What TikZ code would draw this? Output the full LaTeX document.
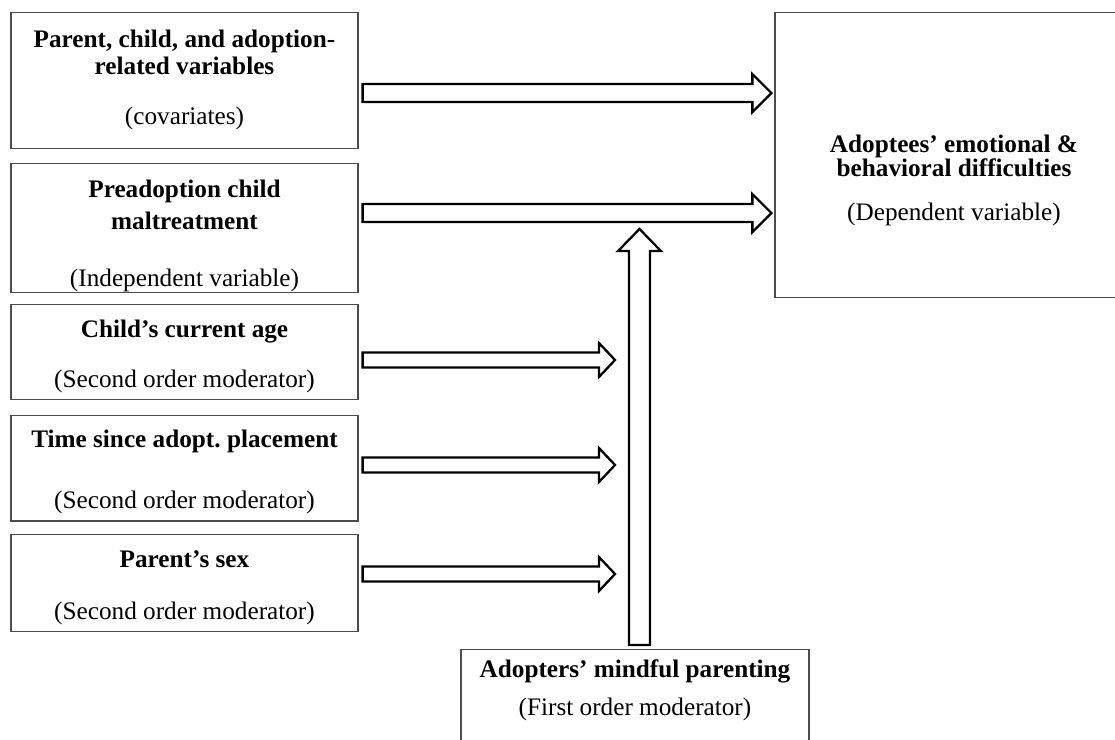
\documentclass[tikz,border=0pt]{standalone}
\usepackage{fontspec}
\setmainfont{Liberation Serif}
\usetikzlibrary{calc}

\newcommand{\pxu}{0.017cm}
\newlength{\pxlen}
\setlength{\pxlen}{0.017cm}
% struts: room above the first baseline and below the last one
\newcommand{\topgap}[1]{\rule{0pt}{#1\pxlen}}
\newcommand{\botgap}[1]{\rule[-#1\pxlen]{0pt}{#1\pxlen}}

\begin{document}
\begin{tikzpicture}[
  x=0.017cm, y=-0.017cm,
  box/.style={rectangle, draw=black!70, line width=0.6pt, minimum width=347*\pxu, anchor=north, align=center, inner sep=0pt, font=\fontsize{12.2}{13.2}\selectfont},
  hollow/.style n args={3}{draw=black, line width=1.1pt, fill=white, line join=miter,
    to path={
      ($(\tikztostart)!#1*\pxu!90:(\tikztotarget)$)
      -- ($($(\tikztotarget)!#3*\pxu!(\tikztostart)$)!#1*\pxu!90:(\tikztotarget)$)
      -- ($($(\tikztotarget)!#3*\pxu!(\tikztostart)$)!#2*\pxu!90:(\tikztotarget)$)
      -- (\tikztotarget)
      -- ($($(\tikztotarget)!#3*\pxu!(\tikztostart)$)!#2*\pxu!-90:(\tikztotarget)$)
      -- ($($(\tikztotarget)!#3*\pxu!(\tikztostart)$)!#1*\pxu!-90:(\tikztotarget)$)
      -- ($(\tikztostart)!#1*\pxu!-90:(\tikztotarget)$)
      -- cycle}},
]
\useasboundingbox (0,0) rectangle (1115,739);
\clip (0,0) rectangle (1115,739);

% Left column
\node[box] (cov) at (184.5,12)
  {\topgap{35}\textbf{Parent, child, and adoption-}\\\textbf{related variables}\\[10.6pt](covariates)\botgap{24}};
\node[box] (mal) at (184.5,163)
  {\topgap{34}\textbf{Preadoption child}\\[2pt]\textbf{maltreatment}\\[14.5pt](Independent variable)\botgap{6}};
\node[box] (age) at (184.5,304)
  {\topgap{33}\textbf{Child's current age}\\[11pt](Second order moderator)\botgap{12}};
\node[box] (time) at (184.5,415)
  {\topgap{32}\textbf{Time since adopt.\ placement}\\[16pt](Second order moderator)\botgap{13}};
\node[box] (sex) at (184.5,534)
  {\topgap{33}\textbf{Parent's sex}\\[12pt](Second order moderator)\botgap{12}};

% Outcome
\node[box, minimum width=358*\pxu] (dep) at (954,12)
  {\topgap{140}\textbf{Adoptees' emotional \&}\\[-1.5pt]\textbf{behavioral difficulties}\\[8pt](Dependent variable)\botgap{77}};

% Moderator
\node[box, minimum width=348*\pxu] (mind) at (635,649)
  {\topgap{28}\textbf{Adopters' mindful parenting}\\[5pt](First order moderator)\botgap{30}};

% Arrow ends
\coordinate (a1s) at ($(cov.north east)+(4,81)$);
\coordinate (a1e) at ($(dep.west |- a1s)+(-3,0)$);
\coordinate (a2s) at ($(mal.north east)+(4,50)$);
\coordinate (a2e) at ($(dep.west |- a2s)+(-3,0)$);
\coordinate (vs) at ($(mind.north)+(4.5,-4)$);
\coordinate (joint) at ($(vs |- a2s)+(0,16)$);
\coordinate (a3s) at ($(age.north east)+(4,56)$);
\coordinate (a3e) at ($(vs |- a3s)+(-24.5,0)$);
\coordinate (a4s) at ($(time.north east)+(4,50)$);
\coordinate (a4e) at ($(vs |- a4s)+(-24.5,0)$);
\coordinate (a5s) at ($(sex.north east)+(4,40)$);
\coordinate (a5e) at ($(vs |- a5s)+(-24.5,0)$);

% Arrows
\draw[hollow={9}{19}{19}] (a1s) to (a1e);
\draw[hollow={9}{19}{19}] (a2s) to (a2e);
\draw[hollow={10.5}{21.5}{22}] (vs) to (joint);
\draw[hollow={7.5}{17}{16}] (a3s) to (a3e);
\draw[hollow={7.5}{17}{16}] (a4s) to (a4e);
\draw[hollow={7.5}{17}{16}] (a5s) to (a5e);

\end{tikzpicture}
\end{document}
